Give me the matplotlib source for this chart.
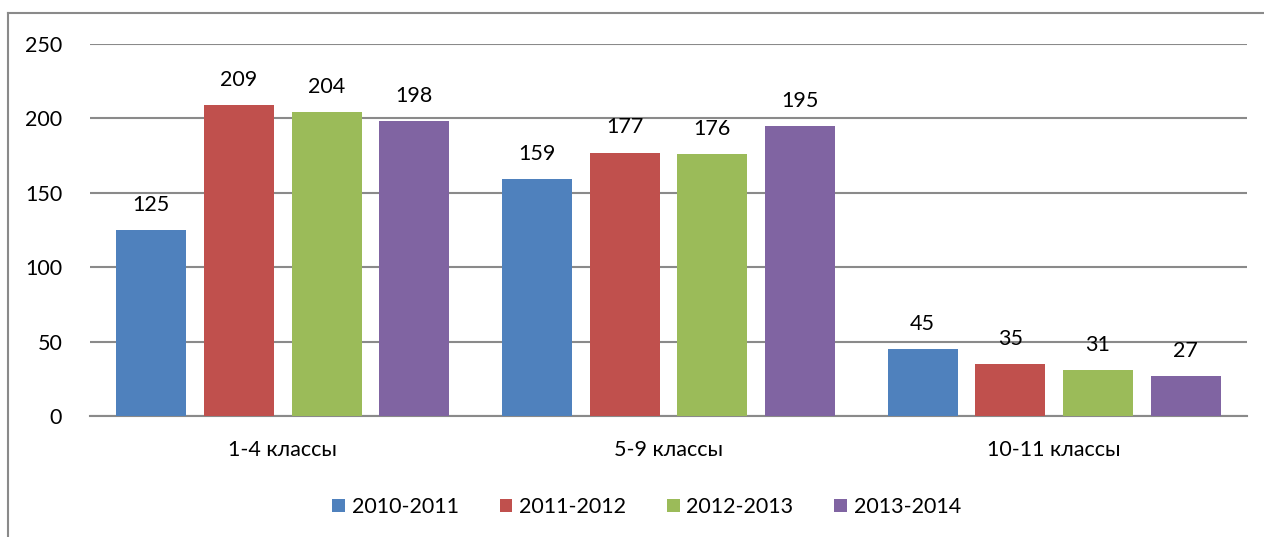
import matplotlib.pyplot as plt
from matplotlib.lines import Line2D
import numpy as np

# Data
categories = ["1-4 классы", "5-9 классы", "10-11 классы"]
years = ["2010-2011", "2011-2012", "2012-2013", "2013-2014"]
v2010 = [125, 159, 45]
v2011 = [209, 177, 35]
v2012 = [204, 176, 31]
v2013 = [198, 195, 27]
series = [v2010, v2011, v2012, v2013]
colors = ["#4F81BD", "#C0504D", "#9BBB59", "#8064A2"]

plt.rcParams["font.family"] = ["Lato", "DejaVu Sans"]
fs = 15.5

fig = plt.figure(figsize=(12.64, 5.37), dpi=100)
ax = fig.add_axes([90 / 1264, 1 - 416 / 537, 1157 / 1264, 372 / 537])

x = np.arange(len(categories))
width = 0.1815
step = 0.2274
for i, (vals, col, lab) in enumerate(zip(series, colors, years)):
    pos = x + (i - 1.5) * step
    bars = ax.bar(pos, vals, width=width, color=col, label=lab, zorder=3)
    for b, v in zip(bars, vals):
        ax.annotate(str(v), (b.get_x() + b.get_width() / 2, v),
                    xytext=(0, 11), textcoords="offset points",
                    ha="center", va="bottom", fontsize=fs, color="black")

ax.set_xlim(-0.5, 2.5)
ax.set_ylim(0, 250)
ax.set_yticks(range(0, 251, 50))
ax.set_xticks(x)
ax.set_xticklabels(categories)
ax.tick_params(axis="both", length=0, labelsize=fs, colors="black")
ax.tick_params(axis="y", pad=20)
ax.tick_params(axis="x", pad=17)
ax.yaxis.grid(True, color="#8a8a8a", linewidth=1.5, zorder=0)
ax.set_axisbelow(True)
for s in ["top", "right", "left"]:
    ax.spines[s].set_visible(False)
ax.spines["bottom"].set_color("#8a8a8a")
ax.spines["bottom"].set_linewidth(1.5)

ax.legend(loc="center", bbox_to_anchor=(0.481, -0.245), ncol=4, frameon=False,
          fontsize=fs, handlelength=0.6, handleheight=0.6, handletextpad=0.3,
          columnspacing=1.9)

# outer chart border (cut off at right and bottom)
bx = 8 / 1264
by = 1 - 13 / 537
fig.add_artist(Line2D([bx, 1], [by, by], color="#8a8a8a", linewidth=1.5))
fig.add_artist(Line2D([bx, bx], [0, by], color="#8a8a8a", linewidth=1.5))

plt.savefig("out.png", dpi=100)
